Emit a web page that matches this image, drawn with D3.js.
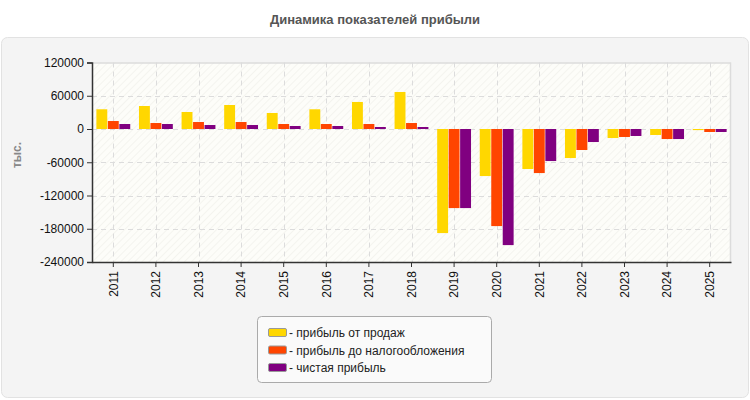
<!DOCTYPE html>
<html>
<head>
<meta charset="utf-8">
<script src="https://cdn.jsdelivr.net/npm/d3@7"></script>
<style>
html,body{margin:0;padding:0;background:#fff;}
svg{display:block;font-family:"Liberation Sans",Arial,sans-serif;}
</style>
</head>
<body>
<svg id="chart" width="750" height="400"></svg>
<script>
const title = "Динамика показателей прибыли";
const yAxisLabel = "тыс.";
const categories = ["2011","2012","2013","2014","2015","2016","2017","2018","2019","2020","2021","2022","2023","2024","2025"];
const seriesNames = ["прибыль от продаж","прибыль до налогообложения","чистая прибыль"];
const seriesColors = ["#FFD700","#FF4500","#800080"];
const salesProfit = [35600,41500,30700,43300,28900,35600,48800,66800,-187800,-84900,-72200,-52400,-16300,-10800,-2000];
const preTaxProfit = [14400,10800,12600,12600,9000,9000,9000,10800,-142700,-175200,-79500,-37900,-14400,-18100,-5400];
const netProfit = [9000,9000,7200,7200,5400,5400,3600,3600,-142700,-209500,-57800,-23500,-12600,-18100,-5400];
const yTicks = [120000,60000,0,-60000,-120000,-180000,-240000];

(function(){
const seriesValues = [salesProfit, preTaxProfit, netProfit];
const svg = d3.select("#chart");

svg.append("rect").attr("x",1.5).attr("y",37.5).attr("width",747).attr("height",360)
  .attr("rx",6).attr("fill","#f4f4f4").attr("stroke","#e2e2e2");

svg.append("text").attr("x",375).attr("y",24).attr("text-anchor","middle")
  .attr("font-size",13).attr("font-weight","bold").attr("fill","#555").text(title);

const pL = 92, pR = 731, pT = 62.5, pB = 262;
const x0 = d3.scaleBand().domain(categories).range([pL,pR]).padding(0);
const x1 = d3.scaleBand().domain(seriesNames).range([3.8,38.8]).padding(0.05);
const y = d3.scaleLinear().domain([-240000,120000]).range([pB,pT]);

const defs = svg.append("defs");
const pat = defs.append("pattern").attr("id","hatch").attr("patternUnits","userSpaceOnUse")
  .attr("width",5).attr("height",5).attr("patternTransform","rotate(45)");
pat.append("rect").attr("width",5).attr("height",5).attr("fill","#fdfdf9");
pat.append("line").attr("x1",0).attr("y1",0).attr("x2",0).attr("y2",5)
  .attr("stroke","#f1f1ec").attr("stroke-width",1.5);

svg.append("rect").attr("x",pL).attr("y",pT).attr("width",pR-pL).attr("height",pB-pT)
  .attr("fill","url(#hatch)");
svg.append("path").attr("d",`M${pL},${pT+0.5}H${pR-0.5}V${pB}`)
  .attr("fill","none").attr("stroke","#dcdcdc").attr("stroke-width",1.5);

const g = svg.append("g");
g.selectAll(".hg").data(yTicks.filter(d=>d!==120000 && d!==-240000)).enter().append("line")
  .attr("x1",pL).attr("x2",pR).attr("y1",d=>Math.round(y(d))+0.5).attr("y2",d=>Math.round(y(d))+0.5)
  .attr("stroke","#dcdcdc").attr("stroke-dasharray","5,4");
g.selectAll(".vg").data(categories).enter().append("line")
  .attr("x1",d=>Math.round(x0(d)+x0.bandwidth()/2)+0.5).attr("x2",d=>Math.round(x0(d)+x0.bandwidth()/2)+0.5)
  .attr("y1",pT).attr("y2",pB)
  .attr("stroke","#dcdcdc").attr("stroke-dasharray","5,4");

const groups = svg.append("g").selectAll("g").data(categories).enter().append("g")
  .attr("transform",d=>`translate(${x0(d)},0)`);
groups.selectAll("rect").data((c,i)=>seriesNames.map((s,j)=>({s,j,v:seriesValues[j][i]})))
  .enter().append("rect")
  .attr("x",d=>x1(d.s)).attr("width",x1.bandwidth())
  .attr("y",d=>y(Math.max(0,d.v))).attr("height",d=>Math.abs(y(d.v)-y(0)))
  .attr("fill",d=>seriesColors[d.j]);

const fmt = d => String(d);
const yAxis = d3.axisLeft(y).tickValues(yTicks).tickSize(5).tickPadding(3).tickFormat(fmt);
const ya = svg.append("g").attr("transform",`translate(${pL},0)`).call(yAxis);
ya.select(".domain").attr("stroke","#333").attr("stroke-width",1.5);
ya.selectAll(".tick line").attr("stroke","#333");
ya.selectAll("text").attr("font-size",12).attr("fill","#111").attr("font-family","Liberation Sans, Arial, sans-serif");

const xAxis = d3.axisBottom(x0).tickSize(5).tickSizeOuter(0).tickPadding(4);
const xa = svg.append("g").attr("transform",`translate(0,${pB})`).call(xAxis);
xa.select(".domain").attr("stroke","#333").attr("stroke-width",1.5);
xa.selectAll(".tick line").attr("stroke","#333");
xa.selectAll("text").attr("font-size",12).attr("fill","#111").attr("font-family","Liberation Sans, Arial, sans-serif")
  .attr("transform","rotate(-90)").attr("text-anchor","end").attr("x",-9).attr("y",0).attr("dy","0.35em");

svg.append("text").attr("transform","translate(21,155) rotate(-90)").attr("text-anchor","middle")
  .attr("font-size",12).attr("font-weight","bold").attr("fill","#888").text(yAxisLabel);

const lg = svg.append("g");
lg.append("rect").attr("x",257.5).attr("y",316.5).attr("width",234).attr("height",66).attr("rx",4)
  .attr("fill","#fafafa").attr("stroke","#aaa");
seriesNames.forEach((s,i)=>{
  const yy = 333 + i*17.5;
  lg.append("rect").attr("x",268.5).attr("y",yy-4.5).attr("width",18).attr("height",8).attr("rx",1.5)
    .attr("fill",seriesColors[i]).attr("stroke","#999");
  lg.append("text").attr("x",289).attr("y",yy).attr("dy","0.35em").attr("font-size",12).attr("fill","#222")
    .text("- " + s);
});
})();
</script>
</body>
</html>
